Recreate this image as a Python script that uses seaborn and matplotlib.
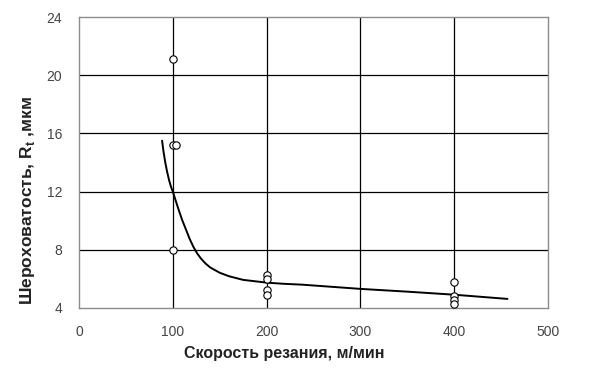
import pandas as pd
import seaborn as sns
import matplotlib.pyplot as plt

# measured points (cutting speed, roughness)
speed_pts = [100, 100, 103, 100, 200, 200, 200, 200, 400, 400, 400, 400]
rough_pts = [21.1, 15.2, 15.2, 8.0, 6.25, 6.0, 5.2, 4.9, 5.8, 4.8, 4.55, 4.3]

# fitted trend line
curve_x = [88.6, 90, 92, 94, 96, 98, 100.3, 103, 106, 110, 114, 118, 122, 126, 130, 135, 140,
           150, 160, 175, 200, 218, 238, 300, 350, 400, 457]
curve_y = [15.5, 14.8, 14.0, 13.35, 12.8, 12.35, 11.95, 11.4, 10.8, 10.05, 9.4, 8.75, 8.2, 7.75,
           7.4, 7.05, 6.78, 6.42, 6.18, 5.93, 5.74, 5.66, 5.6, 5.31, 5.12, 4.91, 4.62]

x_ticks = [0, 100, 200, 300, 400, 500]
y_ticks = [4, 8, 12, 16, 20, 24]

sns.set_style("white")
plt.rcParams["font.family"] = ["Liberation Sans", "DejaVu Sans"]

fig = plt.figure(figsize=(6, 3.71), dpi=100)
ax = fig.add_axes([0.1317, 0.170, 0.7813, 0.784])

# grid lines
for xv in x_ticks[1:-1]:
    ax.axvline(xv, color="black", lw=0.9, zorder=1)
for yv in y_ticks[1:-1]:
    ax.axhline(yv, color="black", lw=0.9, zorder=1)

curve = pd.DataFrame({"x": curve_x, "y": curve_y})
sns.lineplot(data=curve, x="x", y="y", ax=ax, color="black", lw=1.4, sort=False, zorder=2)

pts = pd.DataFrame({"speed": speed_pts, "rough": rough_pts})
sns.scatterplot(data=pts, x="speed", y="rough", ax=ax, s=28, marker="o",
                facecolor="white", edgecolor="black", linewidth=0.8, zorder=3)

ax.set_xlim(0, 500)
ax.set_ylim(4, 24)
ax.set_xticks(x_ticks)
ax.set_yticks(y_ticks)
ax.tick_params(axis="both", length=0, labelsize=10, labelcolor="#444444")
ax.tick_params(axis="x", pad=12)
ax.tick_params(axis="y", pad=12)

for s in ax.spines.values():
    s.set_color("#8c8c8c")
    s.set_linewidth(1.0)

ax.set_xlabel("Скорость резания, м/мин", fontsize=11.5, fontweight="bold", color="#222222")
ax.set_ylabel("Шероховатость, R$_\\mathregular{t}$ ,мкм", fontsize=12.5, fontweight="bold",
              color="#222222")
ax.xaxis.set_label_coords(0.437, -0.13)
ax.yaxis.set_label_coords(-0.09, 0.37)

fig.savefig("out.png", dpi=100)
